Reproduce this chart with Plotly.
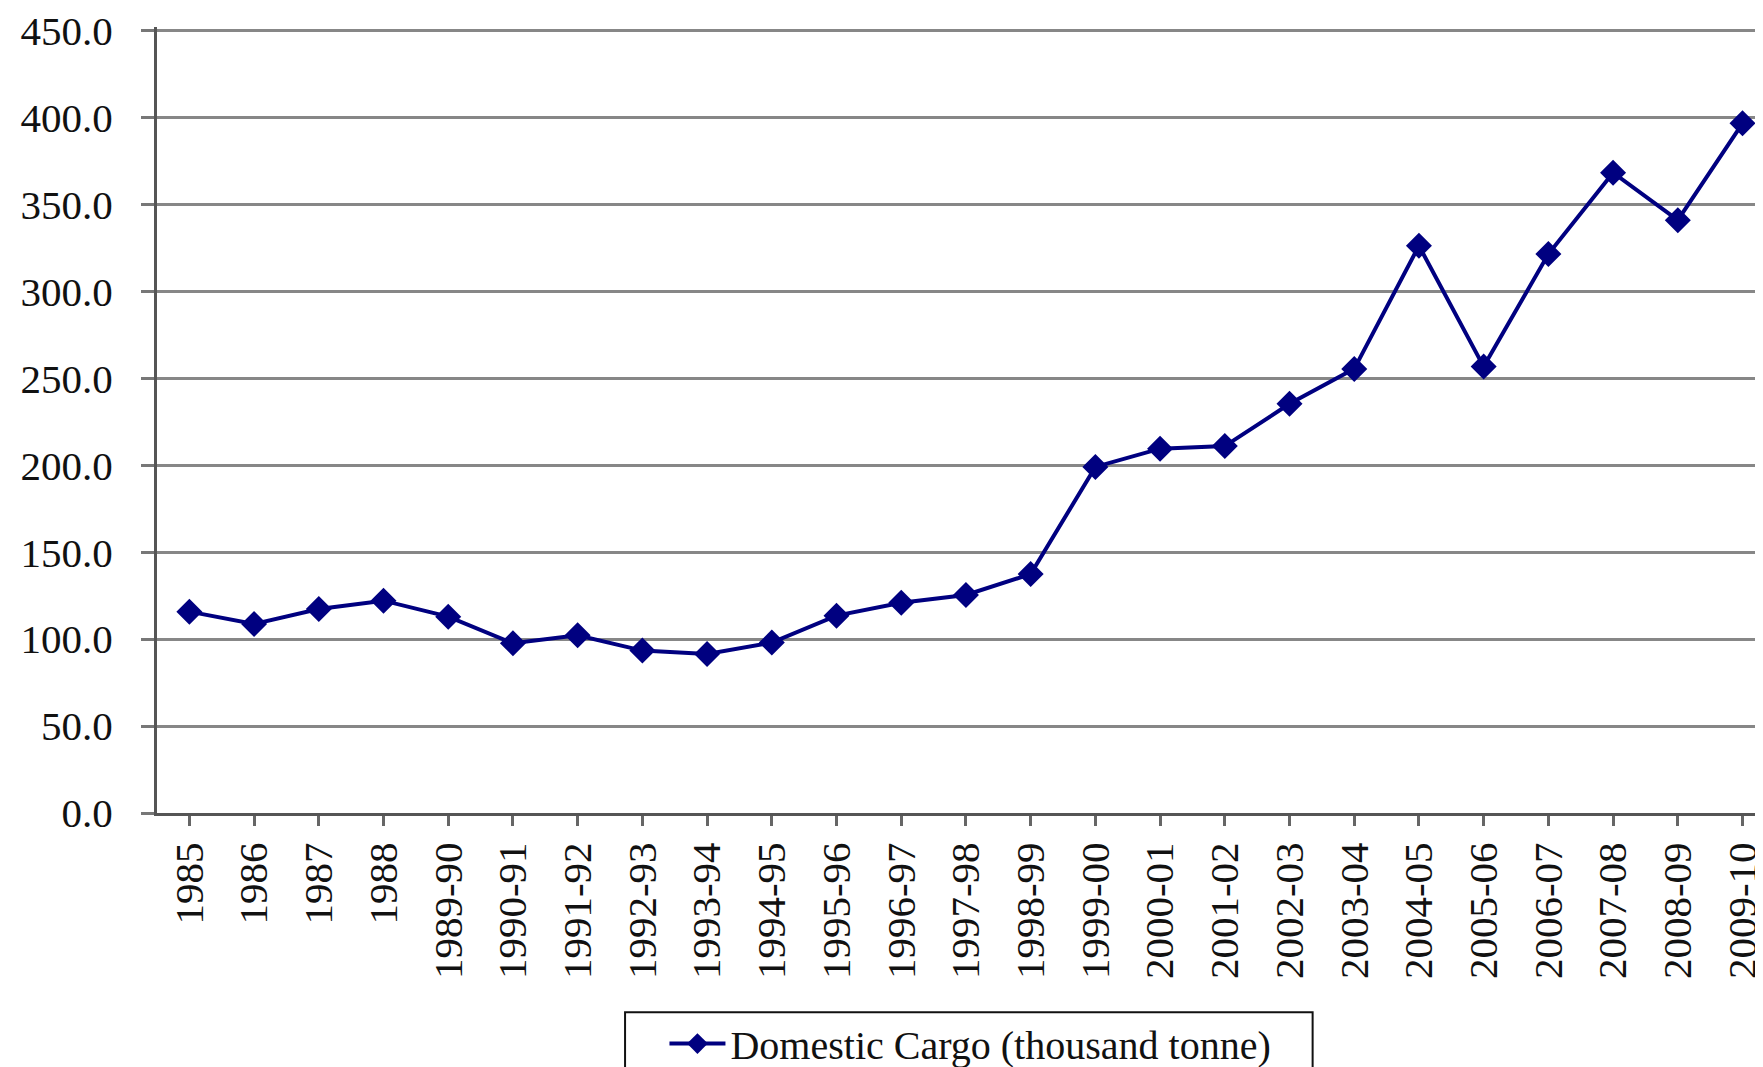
import plotly.graph_objects as go

periods = ['1985', '1986', '1987', '1988', '1989-90', '1990-91', '1991-92', '1992-93',
           '1993-94', '1994-95', '1995-96', '1996-97', '1997-98', '1998-99', '1999-00',
           '2000-01', '2001-02', '2002-03', '2003-04', '2004-05', '2005-06', '2006-07',
           '2007-08', '2008-09', '2009-10']
cargo = [115.8, 108.7, 117.3, 122.1, 112.9, 97.6, 102.2, 93.4, 91.5, 98.0, 113.5, 120.9,
         125.4, 137.4, 199.0, 209.5, 211.0, 235.3, 255.4, 326.2, 256.7, 321.4, 368.2,
         340.9, 396.6]
y_ticks = [0, 50, 100, 150, 200, 250, 300, 350, 400, 450]

serif = "Liberation Serif, Times New Roman, serif"

fig = go.Figure()
fig.add_trace(go.Scatter(
    x=list(range(len(periods))),
    y=cargo,
    mode='lines+markers',
    name='Domestic Cargo (thousand tonne)',
    line=dict(color='#000080', width=4),
    marker=dict(symbol='diamond', size=20, color='#000080')
))

# plot area: y=0 near 805px, y=450 near 22px
fig.update_layout(
    width=1763, height=1067,
    margin=dict(l=149, r=0, t=19, b=262, autoexpand=False),
    paper_bgcolor='white', plot_bgcolor='white',
    font=dict(family=serif, size=41, color='#111111'),
    showlegend=True,
    legend=dict(
        x=0.504, xanchor='center', y=-0.252, yanchor='top',
        orientation='h', bgcolor='rgba(0,0,0,0)', borderwidth=0,
        itemwidth=56, font=dict(family=serif, size=40, color='#111111')
    ),
    shapes=[dict(
        type='rect', xref='paper', yref='paper',
        x0=0.290, x1=0.716, y0=-0.36, y1=-0.2535,
        line=dict(color='#111111', width=2), fillcolor='rgba(0,0,0,0)'
    )]
)

fig.update_xaxes(
    tickmode='array', tickvals=list(range(len(periods))), ticktext=periods,
    range=[-0.5, 24.44], tickangle=-90, tickson='boundaries',
    ticks='outside', ticklen=10, tickwidth=3, tickcolor='#666666',
    showline=True, linecolor='#555555', linewidth=3,
    showgrid=False, zeroline=False, ticklabelstandoff=0
)
fig.update_yaxes(
    range=[0, 452], tickmode='array', tickvals=y_ticks,
    ticktext=['%.1f' % v for v in y_ticks], ticklabeloverflow='allow',
    ticks='outside', ticklen=13, tickwidth=3, tickcolor='#777777',
    showline=True, linecolor='#555555', linewidth=3,
    showgrid=True, gridcolor='#878787', gridwidth=3, zeroline=False,
    ticklabelstandoff=20
)

fig.write_html("out.html")
